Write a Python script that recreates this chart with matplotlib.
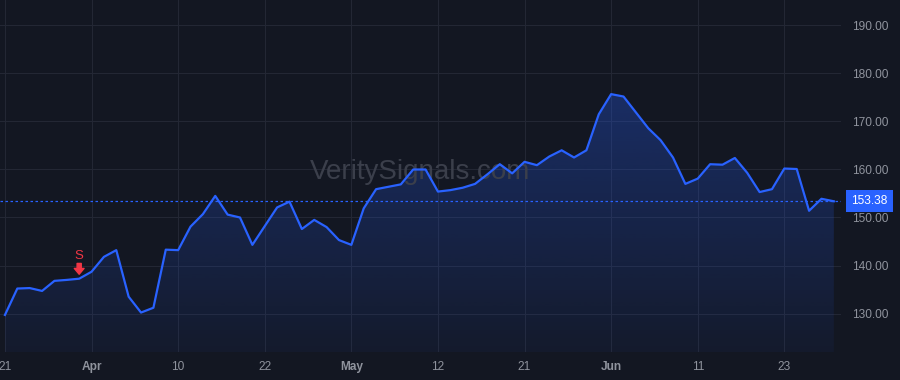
import matplotlib
matplotlib.use("Agg")
import matplotlib.pyplot as plt
import numpy as np

# ---- data ----
prices = [129.7, 135.2, 135.3, 134.7, 136.8, 137.0, 137.25, 138.7, 141.8, 143.2,
          133.5, 130.2, 131.2, 143.3, 143.2, 148.1, 150.7, 154.5, 150.6, 150.0,
          144.3, 148.2, 152.1, 153.3, 147.6, 149.5, 148.0, 145.3, 144.3, 151.9,
          155.9, 156.4, 156.9, 160.0, 160.0, 155.4, 155.7, 156.2, 157.0, 159.0,
          161.1, 159.2, 161.6, 160.9, 162.7, 164.0, 162.5, 164.0, 171.5, 175.7,
          175.2, 171.9, 168.6, 166.1, 162.5, 157.0, 158.1, 161.1, 161.0, 162.4,
          159.3, 155.3, 155.9, 160.2, 160.1, 151.4, 153.9, 153.38]
tick_bars = [0, 7, 14, 21, 28, 35, 42, 49, 56, 63]
tick_labels = ["21", "Apr", "10", "22", "May", "12", "21", "Jun", "11", "23"]
month_labels = {"Apr", "May", "Jun"}
y_ticks = [130, 140, 150, 160, 170, 180, 190]
signal_bar = 6
signal_text = "S"
last_price = prices[-1]
watermark = "VeritySignals.com"

# ---- style ----
BG = "#131722"
GRID = "#232734"
LINE = "#2962ff"
TXT = "#8f939d"
RED = "#f23645"
FONT = "Liberation Sans"

plt.rcParams["font.family"] = [FONT, "DejaVu Sans"]

fig = plt.figure(figsize=(9, 3.8), dpi=100, facecolor=BG)
ax = fig.add_axes([0, 28 / 380, 841 / 900, 352 / 380], facecolor=BG)

x = np.arange(len(prices))
y = np.array(prices)

ax.set_xlim(-0.40, 67.58)
ymin, ymax = 121.98, 195.31
ax.set_ylim(ymin, ymax)

# grid
for t in y_ticks:
    ax.axhline(t, color=GRID, lw=0.8, zorder=0)
for b in tick_bars:
    ax.axvline(b, color=GRID, lw=0.8, zorder=0)

# gradient fill
poly = ax.fill_between(x, y, ymin, color="none", lw=0)
grad = np.linspace(0, 1, 256).reshape(-1, 1)
cmap_arr = np.zeros((256, 1, 4))
cmap_arr[..., 0] = 41 / 255
cmap_arr[..., 1] = 98 / 255
cmap_arr[..., 2] = 255 / 255
cmap_arr[..., 3] = (0.05 + 0.25 * grad)[:, :]
top = max(prices)
img = ax.imshow(cmap_arr, extent=[x[0], x[-1], ymin, top], origin="lower",
                aspect="auto", zorder=1, interpolation="bilinear")
img.set_clip_path(poly.get_paths()[0], transform=ax.transData)

# watermark
ax.text(0.5, 0.51, watermark, transform=ax.transAxes, ha="center", va="center",
        fontsize=20, color="#3b3f4b", zorder=2)

# line
ax.plot(x, y, color=LINE, lw=1.6, zorder=4)

# last price dotted line
ax.axhline(last_price, color=LINE, lw=0.9, ls=(0, (2, 2)), zorder=3)

# signal marker
ax.annotate("", xy=(signal_bar, prices[signal_bar]), xytext=(0, 11),
            textcoords="offset points",
            arrowprops=dict(arrowstyle="simple,head_length=0.42,head_width=0.7,tail_width=0.3",
                            color=RED, shrinkA=0, shrinkB=3.2), zorder=5)
ax.annotate(signal_text, xy=(signal_bar, prices[signal_bar]), xytext=(0, 16),
            textcoords="offset points", ha="center", va="center",
            fontsize=9.5, color=RED, zorder=5)

# axes styling
for s in ax.spines.values():
    s.set_visible(False)
ax.yaxis.tick_right()
ax.set_yticks(y_ticks)
ax.set_yticklabels([f"{v:.2f}" for v in y_ticks])
ax.tick_params(axis="y", length=0, pad=8, labelsize=8.6, labelcolor=TXT)
ax.set_xticks(tick_bars)
ax.set_xticklabels(tick_labels)
ax.tick_params(axis="x", length=0, pad=6.5, labelsize=8.6, labelcolor=TXT)
for lbl in ax.get_xticklabels():
    if lbl.get_text() in month_labels:
        lbl.set_fontweight("bold")
ax.grid(False)

# last price label box
ax.annotate(f"{last_price:.2f}", xy=(1.0, last_price),
            xycoords=("axes fraction", "data"), xytext=(7.5, 0),
            textcoords="offset points", ha="left", va="center",
            fontsize=8.6, color="white", zorder=6, annotation_clip=False,
            bbox=dict(boxstyle="square,pad=0.42", fc=LINE, ec="none"))

fig.savefig("out.png", dpi=100, facecolor=BG)
